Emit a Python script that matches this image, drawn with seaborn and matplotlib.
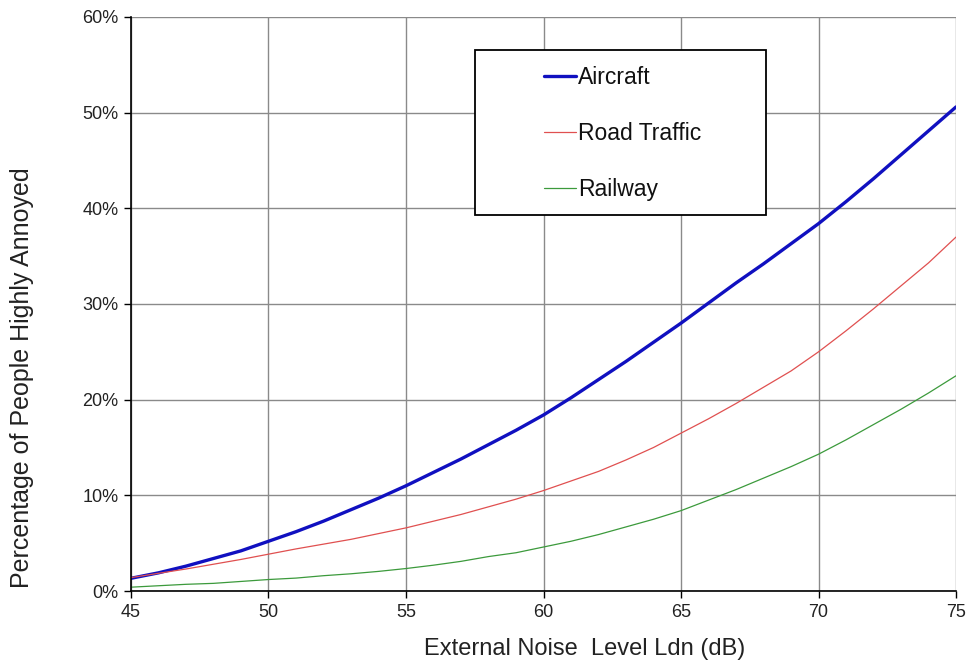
import matplotlib
matplotlib.use("Agg")
import matplotlib.pyplot as plt
import seaborn as sns
import pandas as pd
from matplotlib.patches import Rectangle
from matplotlib.ticker import FuncFormatter

ldn = list(range(45, 76))
aircraft = [1.33, 1.9, 2.6, 3.4, 4.2, 5.2, 6.2, 7.3, 8.5, 9.7, 11.0, 12.4, 13.8, 15.3, 16.8,
            18.4, 20.2, 22.1, 24.0, 26.0, 28.0, 30.1, 32.2, 34.2, 36.3, 38.4, 40.7, 43.1, 45.6,
            48.1, 50.6]
road = [1.4, 1.85, 2.3, 2.8, 3.3, 3.85, 4.4, 4.9, 5.4, 6.0, 6.6, 7.3, 8.0, 8.8, 9.6,
        10.5, 11.5, 12.5, 13.7, 15.0, 16.5, 18.0, 19.6, 21.3, 23.0, 25.0, 27.2, 29.5, 31.9,
        34.3, 37.0]
railway = [0.4, 0.55, 0.7, 0.8, 1.0, 1.2, 1.35, 1.6, 1.8, 2.05, 2.35, 2.7, 3.1, 3.6, 4.0,
           4.6, 5.2, 5.9, 6.7, 7.5, 8.4, 9.5, 10.6, 11.8, 13.0, 14.3, 15.8, 17.4, 19.0,
           20.7, 22.5]
series_names = ["Aircraft", "Road Traffic", "Railway"]
x_ticks = [45, 50, 55, 60, 65, 70, 75]
y_ticks = [0, 10, 20, 30, 40, 50, 60]

df = pd.DataFrame({
    "Ldn": ldn * 3,
    "pct": aircraft + road + railway,
    "Source": [series_names[0]] * len(ldn) + [series_names[1]] * len(ldn) + [series_names[2]] * len(ldn),
})

sns.set_style("white")
plt.rcParams["font.family"] = ["Liberation Sans", "DejaVu Sans"]

fig = plt.figure(figsize=(9.71, 6.66), dpi=100)
ax = fig.add_axes([0.1349, 0.1126, 0.8497, 0.8619])

palette = {"Aircraft": "#1010C0", "Road Traffic": "#E05050", "Railway": "#3C9A3C"}
sizes = {"Aircraft": 2.4, "Road Traffic": 0.9, "Railway": 0.9}
sns.lineplot(data=df, x="Ldn", y="pct", hue="Source", size="Source", sizes=sizes,
             palette=palette, ax=ax, legend=True, zorder=3)

ax.set_xlim(45, 75)
ax.set_ylim(0, 60)
ax.set_xticks(x_ticks)
ax.set_yticks(y_ticks)
ax.yaxis.set_major_formatter(FuncFormatter(lambda v, p: f"{v:.0f}%"))
ax.grid(True, color="#8a8a8a", linewidth=1.0)
ax.set_axisbelow(True)
for s in ["top", "right"]:
    ax.spines[s].set_visible(False)
for s in ["left", "bottom"]:
    ax.spines[s].set_color("black")
    ax.spines[s].set_linewidth(1.2)
    ax.spines[s].set_zorder(4)
ax.tick_params(axis="both", direction="out", length=5, width=1, color="black",
               labelsize=13, labelcolor="#222222", left=True, bottom=True)
ax.tick_params(axis="x", pad=4)
ax.tick_params(axis="y", pad=4)
ax.set_xlabel("External Noise  Level Ldn (dB)", fontsize=17, color="#222222")
ax.set_ylabel("Percentage of People Highly Annoyed", fontsize=18, color="#222222")
ax.xaxis.set_label_coords(0.550, -0.081)
ax.yaxis.set_label_coords(-0.118, 0.371)

# legend box
box = Rectangle((0.417, 0.655), 0.353, 0.2875, transform=ax.transAxes,
                facecolor="white", edgecolor="black", linewidth=1.3, zorder=2.5)
ax.add_patch(box)
handles, labels = ax.get_legend_handles_labels()
leg = ax.legend(handles, labels, loc="center", bbox_to_anchor=(0.596, 0.797),
                frameon=False, fontsize=16.5, handlelength=1.4, handletextpad=0.1,
                labelspacing=1.45)
leg.set_zorder(5)
for t in leg.get_texts():
    t.set_color("#111111")

fig.savefig("out.png", dpi=100)
